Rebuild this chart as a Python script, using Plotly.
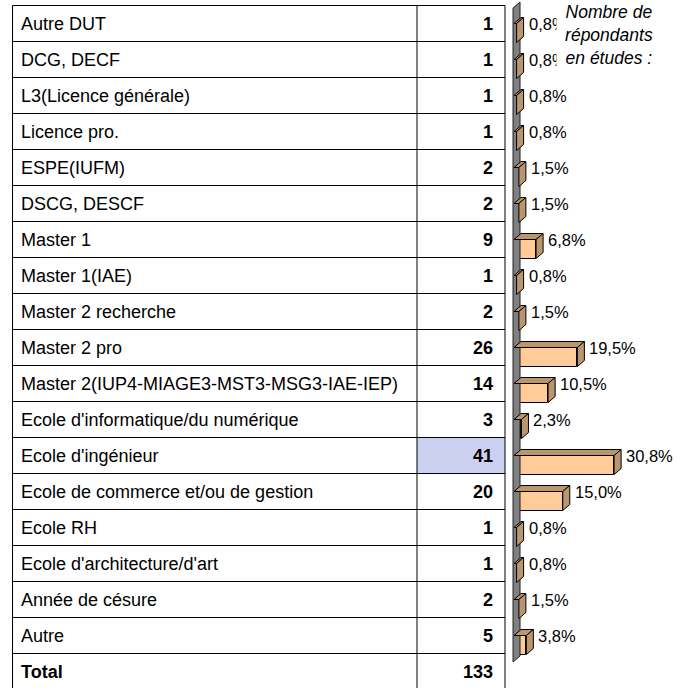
import plotly.graph_objects as go

categories = ["Autre DUT", "DCG, DECF", "L3(Licence générale)", "Licence pro.", "ESPE(IUFM)",
              "DSCG, DESCF", "Master 1", "Master 1(IAE)", "Master 2 recherche", "Master 2 pro",
              "Master 2(IUP4-MIAGE3-MST3-MSG3-IAE-IEP)", "Ecole d'informatique/du numérique",
              "Ecole d'ingénieur", "Ecole de commerce et/ou de gestion", "Ecole RH",
              "Ecole d'architecture/d'art", "Année de césure", "Autre"]
counts = [1, 1, 1, 1, 2, 2, 9, 1, 2, 26, 14, 3, 41, 20, 1, 1, 2, 5]
percents = [0.8, 0.8, 0.8, 0.8, 1.5, 1.5, 6.8, 0.8, 1.5, 19.5, 10.5, 2.3, 30.8, 15.0, 0.8, 0.8, 1.5, 3.8]
total_label = "Total"
total_count = 133
note_text = "Nombre de<br>répondants<br>en études :"

W, H = 693, 688
ROW_PX = 36.0
TOP_PX = 5.5
PX_PER_PCT = 3.25
ZERO_PX = 514

FONT = "Liberation Sans, Arial, sans-serif"
TSIZE = 18
PSIZE = 16.5
FRONT = "#FFCC99"
SIDE = "#B9966E"
WALL = "#808080"

n = len(categories)
nrows = n + 1

def px2row(py):
    return (py - TOP_PX) / ROW_PX - 0.5

y_top = px2row(0)
y_bot = px2row(H)

fig = go.Figure()

dx = 7 / PX_PER_PCT      # depth in percent units
dy = 6 / ROW_PX          # depth in row units
bar_h = 19 / ROW_PX

# wall
wx0 = -0.3
wt = px2row(8)
wb = px2row(662)
fig.add_trace(go.Scatter(
    x=[wx0, wx0, wx0 + dx, wx0 + dx, wx0], y=[wb, wt, wt - dy, wb - dy, wb],
    xaxis="x2", yaxis="y", mode="lines", fill="toself", fillcolor=WALL,
    line=dict(color="#222222", width=1), hoverinfo="skip", showlegend=False))

# front faces
fig.add_trace(go.Bar(
    x=percents, y=[i + bar_h / 2 for i in range(n)], base=0, width=bar_h,
    orientation="h", xaxis="x2", yaxis="y",
    marker=dict(color=FRONT, line=dict(color="#000000", width=1)),
    hoverinfo="skip", showlegend=False))

# top and side faces
for i, p in enumerate(percents):
    yt = i
    yb = i + bar_h
    fig.add_trace(go.Scatter(
        x=[0, p, p + dx, dx, 0], y=[yt, yt, yt - dy, yt - dy, yt],
        xaxis="x2", yaxis="y", mode="lines", fill="toself", fillcolor=SIDE,
        line=dict(color="#000000", width=1), hoverinfo="skip", showlegend=False))
    fig.add_trace(go.Scatter(
        x=[p, p + dx, p + dx, p, p], y=[yt, yt - dy, yb - dy, yb, yt],
        xaxis="x2", yaxis="y", mode="lines", fill="toself", fillcolor=SIDE,
        line=dict(color="#000000", width=1), hoverinfo="skip", showlegend=False))

shapes = []
imax = counts.index(max(counts))
shapes.append(dict(type="rect", xref="x", yref="y", x0=417, x1=505,
                   y0=imax - 0.5, y1=imax + 0.5, fillcolor="#CBCFF0",
                   line=dict(width=0), layer="below"))
for k in range(nrows + 1):
    shapes.append(dict(type="line", xref="x", yref="y", x0=12.5, x1=505,
                       y0=k - 0.5, y1=k - 0.5, line=dict(color="#000000", width=1)))
for xv in [12.5, 417, 505]:
    shapes.append(dict(type="line", xref="x", yref="y", x0=xv, x1=xv,
                       y0=-0.5, y1=nrows - 0.5, line=dict(color="#000000", width=1)))

annotations = []
for i, (c, v) in enumerate(zip(categories, counts)):
    annotations.append(dict(x=19, y=i, xref="x", yref="y", text=c, showarrow=False,
                            xanchor="left", yanchor="middle",
                            font=dict(family=FONT, size=TSIZE, color="#000000")))
    annotations.append(dict(x=495, y=i, xref="x", yref="y", text=f"<b>{v}</b>", showarrow=False,
                            xanchor="right", yanchor="middle",
                            font=dict(family=FONT, size=TSIZE, color="#000000")))
annotations.append(dict(x=19, y=n, xref="x", yref="y", text=f"<b>{total_label}</b>", showarrow=False,
                        xanchor="left", yanchor="middle",
                        font=dict(family=FONT, size=TSIZE, color="#000000")))
annotations.append(dict(x=495, y=n, xref="x", yref="y", text=f"<b>{total_count}</b>", showarrow=False,
                        xanchor="right", yanchor="middle",
                        font=dict(family=FONT, size=TSIZE, color="#000000")))

for i, p in enumerate(percents):
    annotations.append(dict(x=p + dx, y=i, xref="x2", yref="y",
                            text=f"{p:.1f}%".replace(".", ","), showarrow=False,
                            xanchor="left", yanchor="middle", xshift=3,
                            font=dict(family=FONT, size=PSIZE, color="#000000")))

annotations.append(dict(x=609, y=1, xref="x", yref="paper", text=f"<i>{note_text}</i>",
                        showarrow=False, xanchor="center", yanchor="top",
                        align="center", width=102, bgcolor="#FFFFFF", borderpad=1,
                        font=dict(family=FONT, size=17.5, color="#000000")))

fig.update_layout(
    width=W, height=H, margin=dict(l=0, r=0, t=0, b=0),
    paper_bgcolor="#FFFFFF", plot_bgcolor="#FFFFFF",
    xaxis=dict(range=[0, W], visible=False, fixedrange=True),
    xaxis2=dict(range=[-ZERO_PX / PX_PER_PCT, (W - ZERO_PX) / PX_PER_PCT],
                overlaying="x", anchor="y", visible=False, fixedrange=True),
    yaxis=dict(range=[y_bot, y_top], visible=False, fixedrange=True),
    shapes=shapes, annotations=annotations, bargap=0, showlegend=False,
)

fig.write_html("out.html", config={"displayModeBar": False},
               post_script="document.body.style.margin='0';")
